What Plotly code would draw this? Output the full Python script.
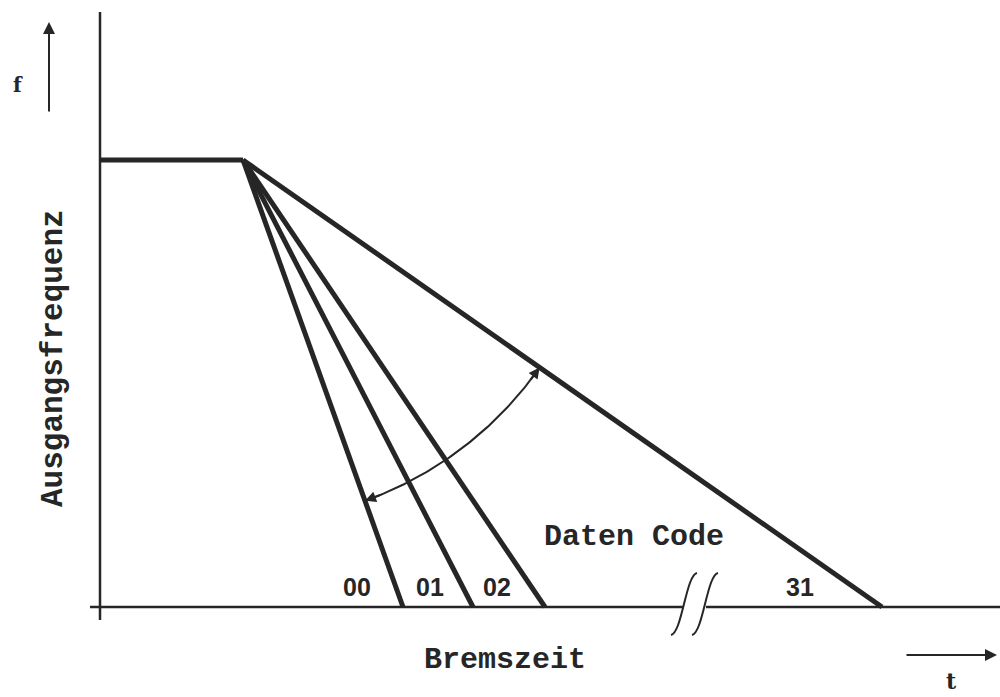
import numpy as np
import plotly.graph_objects as go

# Daten (Einheiten: willkürlich, 1 Einheit ~ 1 px)
f_out = 447                      # Ausgangsfrequenz vor dem Bremsen
t_hold = 143                     # Beginn der Bremsrampe
codes = ["00", "01", "02", "31"]
t_stop = [303, 373, 445, 782]    # Ende der Bremsrampe je Daten Code
t_break = 594                    # Achsenunterbrechung
arc_radius = 362

INK = "#262626"
FONT_MONO = "Liberation Mono"
FONT_SANS = "Liberation Sans"

fig = go.Figure()

# Konstante Frequenz + Bremsrampen
fig.add_trace(go.Scatter(x=[0, t_hold], y=[f_out, f_out], mode="lines",
                         line=dict(color=INK, width=5), hoverinfo="skip"))
for t_end in t_stop:
    fig.add_trace(go.Scatter(x=[t_hold, t_end], y=[f_out, 0], mode="lines",
                             line=dict(color=INK, width=5), hoverinfo="skip"))

# Bogen zwischen Code 31 und Code 00
a_start = np.arctan2(-f_out, t_stop[-1] - t_hold)
a_end = np.arctan2(-f_out, t_stop[0] - t_hold)
ang = np.linspace(a_start, a_end, 80)
arc_x = t_hold + arc_radius * np.cos(ang)
arc_y = f_out + arc_radius * np.sin(ang)
fig.add_trace(go.Scatter(x=arc_x, y=arc_y, mode="lines",
                         line=dict(color=INK, width=2), hoverinfo="skip"))
for i, j in [(0, 6), (-1, -7)]:
    fig.add_annotation(x=arc_x[i], y=arc_y[i], ax=arc_x[j], ay=arc_y[j],
                       xref="x", yref="y", axref="x", ayref="y", text="",
                       showarrow=True, arrowhead=2, arrowsize=1.1,
                       arrowwidth=2, arrowcolor=INK)

# Achsen
fig.add_shape(type="line", x0=0, x1=0, y0=-13, y1=595,
              line=dict(color=INK, width=2.5))
fig.add_shape(type="line", x0=-10, x1=t_break - 10, y0=0, y1=0,
              line=dict(color=INK, width=2.5))
fig.add_shape(type="line", x0=t_break + 12, x1=900, y0=0, y1=0,
              line=dict(color=INK, width=2.5))
for cx in (t_break - 10, t_break + 11):
    fig.add_shape(type="path",
                  path=f"M {cx-13},-28 C {cx-2},-26 {cx+2},32 {cx+13},34",
                  line=dict(color=INK, width=2))

# Pfeile f und t
fig.add_annotation(x=-51, y=585, ax=-51, ay=494, xref="x", yref="y",
                   axref="x", ayref="y", text="", showarrow=True,
                   arrowhead=2, arrowsize=1.2, arrowwidth=2, arrowcolor=INK)
fig.add_annotation(x=897, y=-48, ax=805, ay=-48, xref="x", yref="y",
                   axref="x", ayref="y", text="", showarrow=True,
                   arrowhead=2, arrowsize=1.2, arrowwidth=2, arrowcolor=INK)

# Beschriftungen
label_dx = [-46, -43, -48, -82]
for code, t_end, dx in zip(codes, t_stop, label_dx):
    fig.add_annotation(x=t_end + dx, y=20, text=f"<b>{code}</b>",
                       showarrow=False,
                       font=dict(family=FONT_SANS, size=25, color=INK))

fig.add_annotation(x=534, y=70, text="<b>Daten Code</b>", showarrow=False,
                   font=dict(family=FONT_MONO, size=30, color=INK))
fig.add_annotation(x=405, y=-53, text="<b>Bremszeit</b>", showarrow=False,
                   font=dict(family=FONT_MONO, size=30, color=INK))
fig.add_annotation(x=-47, y=249, text="<b>Ausgangsfrequenz</b>",
                   showarrow=False, textangle=-90,
                   font=dict(family=FONT_MONO, size=31, color=INK))
fig.add_annotation(x=-82, y=522, text="<b>f</b>", showarrow=False,
                   font=dict(family="DejaVu Serif", size=20, color=INK))
fig.add_annotation(x=851, y=-74, text="<b>t</b>", showarrow=False,
                   font=dict(family="DejaVu Serif", size=22, color=INK))

fig.update_layout(
    width=1000, height=697,
    margin=dict(l=0, r=0, t=0, b=0),
    paper_bgcolor="white", plot_bgcolor="white",
    showlegend=False,
    xaxis=dict(range=[-100, 900], visible=False),
    yaxis=dict(range=[-90, 607], visible=False),
)

fig.write_html("out.html", config={"displayModeBar": False},
               post_script="document.body.style.margin='0';")
